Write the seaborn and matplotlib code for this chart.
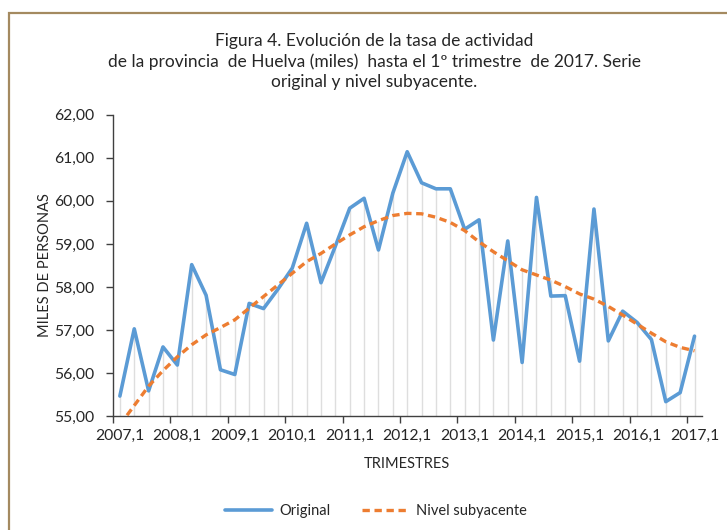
import numpy as np
import pandas as pd
import matplotlib
matplotlib.use("Agg")
import matplotlib.pyplot as plt
from matplotlib.patches import Rectangle
from matplotlib.lines import Line2D
import seaborn as sns

# ---- data ----
years = list(range(2007, 2018))
tick_labels = [f"{y},1" for y in years]
quarters = [f"{y},{q}" for y in range(2007, 2017) for q in range(1, 5)] + ["2017,1"]

original = [55.47, 57.03, 55.59, 56.61, 56.19, 58.52, 57.81, 56.08, 55.97, 57.62,
            57.50, 57.95, 58.44, 59.48, 58.10, 58.95, 59.83, 60.06, 58.86, 60.18,
            61.14, 60.42, 60.28, 60.28, 59.34, 59.56, 56.77, 59.07, 56.25, 60.08,
            57.79, 57.80, 56.28, 59.81, 56.75, 57.44, 57.18, 56.78, 55.34, 55.55,
            56.86]
trend = [54.80, 55.25, 55.70, 56.06, 56.38, 56.66, 56.89, 57.06, 57.24, 57.51,
         57.78, 58.05, 58.32, 58.59, 58.78, 59.00, 59.21, 59.40, 59.54, 59.66,
         59.71, 59.70, 59.62, 59.50, 59.31, 59.05, 58.82, 58.61, 58.40, 58.28,
         58.16, 58.01, 57.84, 57.72, 57.55, 57.35, 57.14, 56.93, 56.73, 56.60,
         56.52]

title = ("Figura 4. Evolución de la tasa de actividad\n"
         "de la provincia  de Huelva (miles)  hasta el 1º trimestre  de 2017. Serie\n"
         "original y nivel subyacente.")

sns.set_style("white")
plt.rcParams['font.family'] = ['Lato', 'DejaVu Sans']

df = pd.DataFrame({"idx": np.arange(len(quarters)), "trimestre": quarters,
                   "Original": original, "Nivel subyacente": trend})

fig = plt.figure(figsize=(7.27, 5.30), dpi=100)
ax = fig.add_axes([112.7 / 727, 1 - 416.3 / 530, (701.7 - 112.7) / 727, (416.3 - 114.7) / 530])

# frame around the figure (cropped on right and bottom)
fig.patches.append(Rectangle((8.5 / 727, -0.1), 1.2, 1 - 12.5 / 530 + 0.1,
                             transform=fig.transFigure, fill=False,
                             edgecolor='#a48a60', linewidth=1.6, zorder=0))

blue = '#5B9BD5'
orange = '#ED7D31'

# drop lines
tops = np.maximum(np.array(original), np.array(trend))
ax.vlines(df["idx"], 55, tops, color='#dedede', linewidth=1.0, zorder=1)

sns.lineplot(data=df, x="idx", y="Original", ax=ax, color=blue, linewidth=2.6,
             zorder=3, legend=False)
sns.lineplot(data=df, x="idx", y="Nivel subyacente", ax=ax, color=orange,
             linewidth=2.4, linestyle=(0, (2.2, 1.4)), zorder=4, legend=False)

ax.set_xlim(-0.5, len(quarters) - 0.5)
ax.set_ylim(55, 62)
ax.set_yticks(np.arange(55, 62.01, 1))
ax.set_yticklabels([f"{v:.2f}".replace('.', ',') for v in np.arange(55, 62.01, 1)])

ax.set_xticks(np.arange(-0.5, len(quarters) - 1, 4))
ax.set_xticklabels([])
ax.set_xticks(np.arange(0, len(quarters), 4), minor=True)
ax.set_xticklabels(tick_labels, minor=True)

for s in ['top', 'right']:
    ax.spines[s].set_visible(False)
for s in ['left', 'bottom']:
    ax.spines[s].set_color('#404040')
    ax.spines[s].set_linewidth(1.0)

ax.tick_params(axis='y', which='major', direction='out', length=5, width=1,
               color='#404040', labelsize=11.3, labelcolor='#262626', pad=8, left=True)
ax.tick_params(axis='x', which='major', direction='out', length=5, width=1,
               color='#404040', bottom=True)
ax.tick_params(axis='x', which='minor', length=0, labelsize=11.3,
               labelcolor='#262626', pad=9)

ax.set_xlabel("TRIMESTRES", fontsize=10.5, color='#262626')
ax.set_ylabel("MILES DE PERSONAS", fontsize=10.5, color='#262626')
ax.xaxis.set_label_coords(0.5, -0.135)
ax.yaxis.set_label_coords(-0.103, 0.5)

fig.text(374 / 727, 1 - 61.5 / 530, title, ha='center', va='center',
         fontsize=12.5, color='#262626', linespacing=1.3)

handles = [Line2D([], [], color=blue, linewidth=2.6),
           Line2D([], [], color=orange, linewidth=2.4, linestyle=(0, (2.2, 1.4)))]
fig.legend(handles, ["Original", "Nivel subyacente"], loc='center',
           bbox_to_anchor=(376 / 727, 1 - 511 / 530), ncol=2, frameon=False,
           fontsize=10.5, handlelength=3.2, columnspacing=2.2, handletextpad=0.5,
           labelcolor='#262626')

fig.savefig("out.png", dpi=100)
